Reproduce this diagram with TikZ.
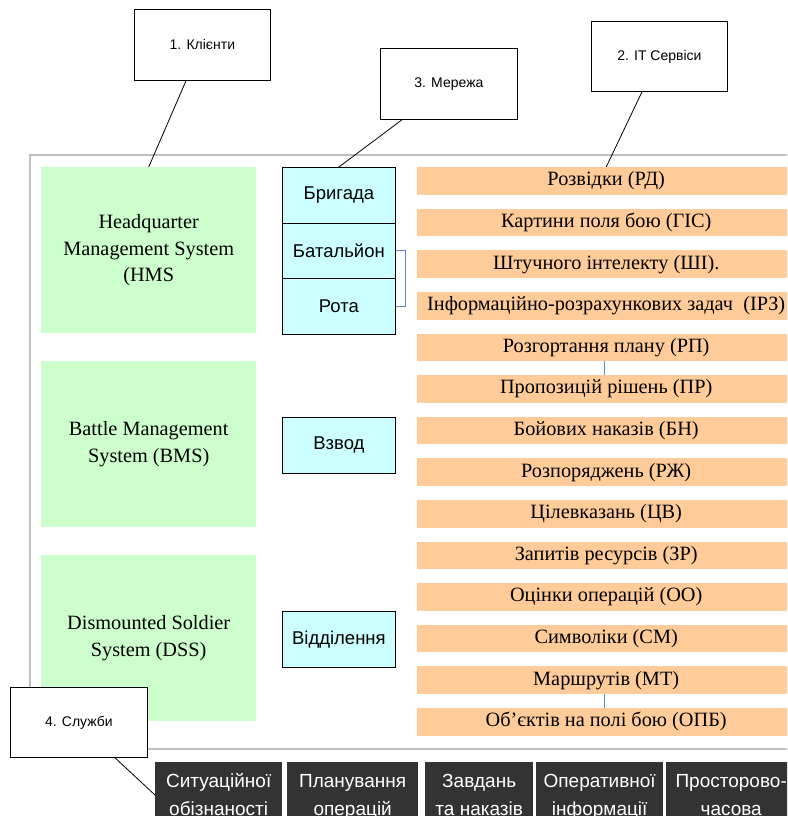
\documentclass[tikz,border=0pt]{standalone}
\usepackage{fontspec}
\setmainfont{Liberation Serif}
\setsansfont{Liberation Sans}
\usetikzlibrary{calc}
\definecolor{grn}{HTML}{CCFFCC}
\definecolor{cyn}{HTML}{CCFFFF}
\definecolor{org}{HTML}{FFCC99}
\definecolor{drk}{HTML}{333333}
\definecolor{frm}{HTML}{BFBFBF}
\definecolor{lnk}{HTML}{5B87CF}
\begin{document}
\begin{tikzpicture}[x=1pt,y=-1pt,
  callout/.style={draw=black,line width=0.8pt,fill=white,inner sep=0pt,
    font=\sffamily\fontsize{14}{16}\selectfont,anchor=north west},
  sysbox/.style={fill=grn,inner sep=0pt,minimum width=215pt,minimum height=166pt,
    anchor=north west,align=center,font=\fontsize{20.3}{26.5}\selectfont},
  netbox/.style={draw=black,line width=0.8pt,fill=cyn,inner sep=0pt,minimum width=113pt,
    minimum height=55.5pt,anchor=north west,font=\sffamily\fontsize{18.5}{20}\selectfont},
  bar/.style={fill=org,inner sep=0pt,minimum width=378pt,minimum height=27.5pt,
    anchor=north west,font=\fontsize{20.3}{22}\selectfont},
  svc/.style={fill=drk,inner sep=0pt,minimum height=80pt,anchor=north west},
  svctext/.style={text=white,inner sep=0pt,anchor=north,align=center,
    font=\sffamily\fontsize{19}{28}\selectfont},
  pointer/.style={draw=black,line width=0.8pt},
  link/.style={draw=lnk,line width=0.9pt}]
\useasboundingbox (0,0) rectangle (787,816);
\clip (0,0) rectangle (787,816);
% outer frame
\draw[frm,line width=1.5pt] (30,155) rectangle (800,749);
% systems
\node[sysbox] (hms) at (41,167) {Headquarter\\Management System\\(HMS};
\node[sysbox] (bms) at (41,361) {Battle Management\\System (BMS)};
\node[sysbox] (dss) at (41,555) {Dismounted Soldier\\System (DSS)};
% network
\node[netbox] (brig) at (282,167) {Бригада};
\node[netbox] (bat) at (282,222.5) {Батальйон};
\node[netbox] (rota) at (282,278) {Рота};
\node[netbox] (vzv) at (282,417) {Взвод};
\node[netbox] (vid) at (282,611) {Відділення};
\draw[link] (bat.east) -- ++(10,0) |- (rota.east);
% IT services bars
\node[bar] (b1) at (417,167) {Розвідки (РД)};
\node[bar] (b2) at (417,208.6) {Картини поля бою (ГІС)};
\node[bar] (b3) at (417,250.2) {Штучного інтелекту (ШІ).};
\node[bar] (b4) at (417,291.8) {Інформаційно-розрахункових задач\ \ (ІРЗ)};
\node[bar] (b5) at (417,333.4) {Розгортання плану (РП)};
\node[bar] (b6) at (417,375) {Пропозицій рішень (ПР)};
\node[bar] (b7) at (417,416.6) {Бойових наказів (БН)};
\node[bar] (b8) at (417,458.2) {Розпоряджень (РЖ)};
\node[bar] (b9) at (417,499.8) {Цілевказань (ЦВ)};
\node[bar] (b10) at (417,541.4) {Запитів ресурсів (ЗР)};
\node[bar] (b11) at (417,583) {Оцінки операцій (ОО)};
\node[bar] (b12) at (417,624.6) {Символіки (СМ)};
\node[bar] (b13) at (417,666.2) {Маршрутів (МТ)};
\node[bar] (b14) at (417,707.8) {Об’єктів на полі бою (ОПБ)};
\draw[link] ([xshift=-2pt]b5.south) -- ([xshift=-2pt]b6.north);
\draw[link] ([xshift=-2pt]b13.south) -- ([xshift=-2pt]b14.north);
% services (bottom)
\node[svc,minimum width=127pt] (s1) at (155,762) {};
\node[svc,minimum width=131pt] (s2) at (287,762) {};
\node[svc,minimum width=108pt] (s3) at (425,762) {};
\node[svc,minimum width=127pt] (s4) at (536,762) {};
\node[svc,minimum width=130pt] (s5) at (666,762) {};
\node[svctext] (t1) at ([yshift=-6pt]s1.north) {\strut Ситуаційної\\\strut обізнаності};
\node[svctext] (t2) at ([yshift=-6pt]s2.north) {\strut Планування\\\strut операцій};
\node[svctext] (t3) at ([yshift=-6pt]s3.north) {\strut Завдань\\\strut та наказів};
\node[svctext] (t4) at ([yshift=-6pt]s4.north) {\strut Оперативної\\\strut інформації};
\node[svctext] (t5) at ([yshift=-6pt]s5.north) {\strut Просторово-\\\strut часова};
% callouts
\node[callout,minimum width=136pt,minimum height=71pt] (c1) at (134,9) {1. Клієнти};
\node[callout,minimum width=137pt,minimum height=71pt] (c3) at (380,48) {3. Мережа};
\node[callout,minimum width=136pt,minimum height=70pt] (c2) at (591,21) {2. IT Сервіси};
\node[callout,minimum width=137pt,minimum height=70pt] (c4) at (10,687) {4. Служби};
\draw[pointer] ([xshift=52pt]c1.south west) -- (hms.north);
\draw[pointer] ([xshift=22pt]c3.south west) -- (brig.north);
\draw[pointer] ([xshift=51pt]c2.south west) -- (b1.north);
\coordinate (s1p) at ([yshift=-33pt]s1.north west);
\draw[pointer] ([xshift=105pt]c4.south west) -- (s1p);
\end{tikzpicture}
\end{document}
